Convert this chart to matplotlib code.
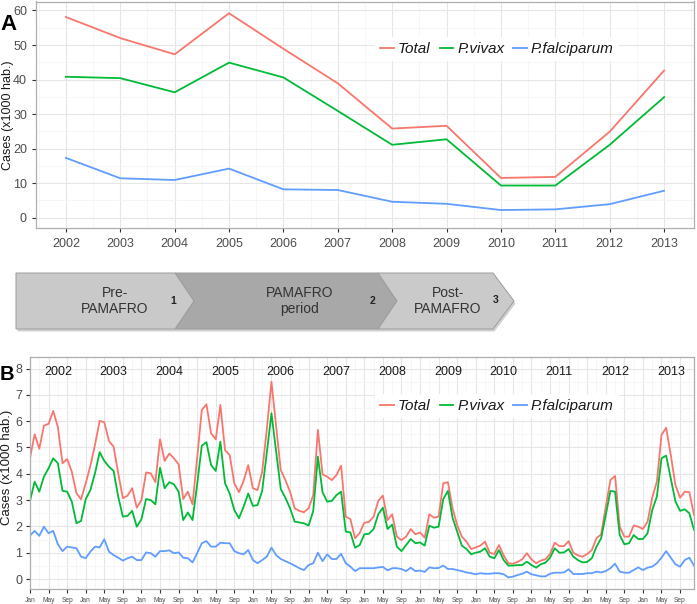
import matplotlib
matplotlib.use('Agg')
import matplotlib.pyplot as plt
from matplotlib.patches import Polygon
from matplotlib.lines import Line2D
import numpy as np

plt.rcParams['font.family'] = ['Liberation Sans', 'DejaVu Sans']

# ---------------- data ----------------
years = list(range(2002, 2014))
annual_total = [58.1, 52.0, 47.3, 59.2, 48.9, 38.9, 25.8, 26.6, 11.5, 11.8, 24.9, 42.6]
annual_vivax = [40.8, 40.4, 36.3, 44.9, 40.6, 30.9, 21.1, 22.7, 9.3, 9.3, 21.1, 34.9]
annual_falc = [17.3, 11.4, 10.9, 14.2, 8.2, 8.0, 4.6, 4.0, 2.2, 2.4, 3.9, 7.8]

monthly_total = [
    4.6, 5.5, 4.95, 5.83, 5.9, 6.39, 5.78, 4.4, 4.56, 4.08, 3.26, 3.03,
    3.64, 4.3, 5.1, 6.01, 5.96, 5.25, 5.03, 4.02, 3.07, 3.17, 3.45, 2.71,
    3.0, 4.05, 4.02, 3.68, 5.31, 4.49, 4.77, 4.59, 4.36, 3.04, 3.32, 2.84,
    4.6, 6.43, 6.64, 5.54, 5.31, 6.62, 4.9, 4.71, 3.64, 3.30, 3.73, 4.33,
    3.45, 3.38, 4.08, 5.7, 7.5, 5.8, 4.14, 3.76, 3.32, 2.69, 2.59, 2.54,
    2.69, 3.19, 5.67, 3.98, 3.89, 3.76, 3.95, 4.31, 2.37, 2.28, 1.55, 1.75,
    2.14, 2.17, 2.37, 2.97, 3.17, 2.24, 2.46, 1.61, 1.48, 1.61, 1.90, 1.70,
    1.77, 1.57, 2.46, 2.33, 2.37, 3.64, 3.68, 2.69, 2.05, 1.61, 1.42, 1.14,
    1.2, 1.27, 1.42, 1.0, 0.95, 1.29, 0.9, 0.6, 0.58, 0.65, 0.75, 0.98,
    0.75, 0.6, 0.7, 0.75, 0.95, 1.38, 1.25, 1.25, 1.44, 1.0, 0.9, 0.85,
    0.95, 1.1, 1.55, 1.7, 2.75, 3.76, 3.92, 1.99, 1.61, 1.61, 2.03, 1.99,
    1.9, 2.18, 3.09, 3.7, 5.48, 5.75, 4.71, 3.57, 3.09, 3.32, 3.3, 2.43,
]
monthly_vivax = [
    2.97, 3.70, 3.32, 3.89, 4.21, 4.59, 4.40, 3.35, 3.32, 2.94, 2.12, 2.21,
    3.04, 3.38, 4.02, 4.82, 4.49, 4.27, 4.11, 3.13, 2.37, 2.40, 2.59, 1.99,
    2.27, 3.04, 3.0, 2.84, 4.23, 3.45, 3.68, 3.6, 3.32, 2.24, 2.53, 2.24,
    3.6, 5.07, 5.2, 4.33, 4.11, 5.22, 3.64, 3.25, 2.62, 2.31, 2.75, 3.25,
    2.78, 2.81, 3.35, 4.8, 6.3, 4.85, 3.42, 3.09, 2.69, 2.18, 2.15, 2.12,
    2.03, 2.59, 4.65, 3.3, 2.94, 2.97, 3.19, 3.32, 1.8, 1.77, 1.19, 1.29,
    1.7, 1.72, 1.90, 2.46, 2.71, 1.90, 2.07, 1.23, 1.06, 1.29, 1.52, 1.36,
    1.39, 1.27, 2.03, 1.95, 1.99, 3.04, 3.35, 2.33, 1.80, 1.27, 1.14, 0.94,
    1.0, 1.04, 1.17, 0.85, 0.79, 1.1, 0.72, 0.51, 0.51, 0.53, 0.53, 0.66,
    0.53, 0.43, 0.56, 0.62, 0.81, 1.17, 1.0, 1.01, 1.14, 0.85, 0.72, 0.63,
    0.65, 0.79, 1.23, 1.55, 2.43, 3.35, 3.32, 1.67, 1.32, 1.36, 1.67, 1.52,
    1.52, 1.74, 2.62, 3.13, 4.59, 4.69, 3.83, 2.95, 2.59, 2.65, 2.5, 1.87,
]
monthly_falc = [
    1.65, 1.83, 1.64, 1.99, 1.74, 1.83, 1.32, 1.06, 1.23, 1.2, 1.17, 0.85,
    0.79, 1.04, 1.23, 1.2, 1.51, 1.04, 0.91, 0.81, 0.70, 0.79, 0.85, 0.72,
    0.72, 1.01, 0.98, 0.85, 1.06, 1.06, 1.09, 0.98, 1.01, 0.81, 0.79, 0.63,
    0.98, 1.36, 1.44, 1.23, 1.23, 1.38, 1.36, 1.36, 1.06, 0.98, 0.94, 1.1,
    0.72, 0.6, 0.72, 0.85, 1.19, 0.91, 0.76, 0.68, 0.6, 0.51, 0.41, 0.34,
    0.53, 0.6, 1.0, 0.68, 0.94, 0.76, 0.76, 0.96, 0.6, 0.47, 0.3, 0.41,
    0.41, 0.41, 0.41, 0.44, 0.46, 0.33, 0.41, 0.41, 0.38, 0.30, 0.43, 0.30,
    0.32, 0.27, 0.44, 0.41, 0.42, 0.51, 0.38, 0.38, 0.34, 0.3, 0.25, 0.22,
    0.18, 0.22, 0.2, 0.2, 0.22, 0.22, 0.18, 0.06, 0.09, 0.15, 0.2, 0.28,
    0.18, 0.14, 0.1, 0.1, 0.2, 0.24, 0.24, 0.25, 0.37, 0.19, 0.19, 0.19,
    0.22, 0.22, 0.28, 0.25, 0.30, 0.41, 0.58, 0.28, 0.24, 0.24, 0.34, 0.44,
    0.34, 0.43, 0.47, 0.6, 0.81, 1.06, 0.81, 0.56, 0.47, 0.72, 0.81, 0.51,
]
month_labels = ['Jan', 'May', 'Sep']
series_names = ['Total', 'P.vivax', 'P.falciparum']
phase_labels = ['Pre-\nPAMAFRO', 'PAMAFRO\nperiod', 'Post-\nPAMAFRO']
phase_numbers = ['1', '2', '3']
y_label = 'Cases (x1000 hab.)'

colors = ['#F8766D', '#00BA38', '#619CFF']

# ---------------- layout ----------------
W, H = 697, 604
fig = plt.figure(figsize=(W / 100, H / 100), dpi=100)


def rect(l, t, r, b):
    return [l / W, 1 - b / H, (r - l) / W, (b - t) / H]


# overlay for the chevrons
axO = fig.add_axes([0, 0, 1, 1], zorder=0)
axO.set_xlim(0, W)
axO.set_ylim(H, 0)
axO.axis('off')
axO.patch.set_alpha(0)

shapes = [
    ([(16, 273), (175, 273), (194, 301), (175, 329), (16, 329)], '#C9C9C9'),
    ([(175, 273), (378, 273), (397, 301), (378, 329), (175, 329), (194, 301)], '#A8A8A8'),
    ([(378, 273), (493, 273), (514, 301), (493, 329), (378, 329), (397, 301)], '#CACACA'),
]
# shadows
for pts, c in shapes:
    sh = [(x + 1.5, y + 2.5) for x, y in pts]
    axO.add_patch(Polygon(sh, closed=True, facecolor='#7A7A7A', edgecolor='none', alpha=0.35))
for pts, c in [shapes[1], shapes[0], shapes[2]]:
    axO.add_patch(Polygon(pts, closed=True, facecolor=c, edgecolor='#9C9C9C', linewidth=0.7))

text_pos = [(115, 301), (300, 301), (448, 301)]
num_pos = [(173, 301), (373, 301), (496, 300)]
for (tx, ty), lab in zip(text_pos, phase_labels):
    axO.text(tx, ty, lab, ha='center', va='center', fontsize=10, color='#333333', linespacing=1.2)
for (nx, ny), n in zip(num_pos, phase_numbers):
    axO.text(nx, ny, n, ha='center', va='center', fontsize=7.5, fontweight='bold', color='#222222')


def style(ax):
    ax.set_facecolor('white')
    for s in ax.spines.values():
        s.set_color('#AFAFAF')
        s.set_linewidth(0.9)
    ax.grid(which='major', color='#E6E6E6', linewidth=0.8)
    ax.grid(which='minor', color='#F3F3F3', linewidth=0.5)
    ax.set_axisbelow(True)
    ax.tick_params(which='major', color='#333333', length=3, width=0.8, labelcolor='#4D4D4D')
    ax.tick_params(which='minor', length=0)


# ---------------- panel A ----------------
axA = fig.add_axes(rect(36, 1.5, 694, 228), zorder=2)
style(axA)
for vals, c in zip([annual_total, annual_vivax, annual_falc], colors):
    axA.plot(years, vals, color=c, lw=1.3)
axA.set_xlim(2001.45, 2013.55)
axA.set_ylim(-3.0, 62.6)
axA.set_xticks(years)
axA.set_xticks(np.arange(2001.5, 2013.6, 1.0), minor=True)
axA.set_yticks(range(0, 61, 10))
axA.set_yticks(range(5, 60, 10), minor=True)
axA.tick_params(axis='both', labelsize=9)
axA.tick_params(axis='x', pad=4)

# ---------------- panel B ----------------
months = np.arange(len(monthly_total))
axB = fig.add_axes(rect(30, 357, 694, 589), zorder=2)
style(axB)
for vals, c in zip([monthly_total, monthly_vivax, monthly_falc], colors):
    axB.plot(months, vals, color=c, lw=1.3)
axB.set_xlim(0, 143)
axB.set_ylim(-0.38, 8.44)
mt = np.arange(0, 144, 4)
axB.set_xticks(mt)
axB.set_xticklabels([month_labels[i % 3] for i in range(len(mt))])
axB.set_xticks(np.arange(2, 144, 4), minor=True)
axB.set_yticks(range(0, 9))
axB.set_yticks(np.arange(0.5, 8, 1.0), minor=True)
axB.tick_params(axis='y', labelsize=9, pad=2.5)
axB.tick_params(axis='x', labelsize=4.8, pad=2.5, length=3)
for i, y in enumerate(years):
    axB.text(6 + 12 * i, 7.87, str(y), ha='center', va='center', fontsize=9, color='#1A1A1A')

# legends
handles = [Line2D([0], [0], color=c, lw=1.3) for c in colors]
for ax, cy in [(axA, 49), (axB, 406)]:
    leg = ax.legend(handles, series_names, loc='center', bbox_to_anchor=(497 / W, 1 - cy / H),
                    bbox_transform=fig.transFigure, ncol=3, frameon=True, facecolor='white',
                    edgecolor='none', framealpha=1, fancybox=False,
                    prop=dict(family='Liberation Sans', style='italic', size=11),
                    handlelength=0.9, handletextpad=0.25, columnspacing=0.6, borderpad=0.35)
    for t in leg.get_texts():
        t.set_color('#1A1A1A')

# y labels and panel letters
fig.text(8 / W, 1 - 115 / H, y_label, rotation=90, ha='center', va='center', fontsize=9, color='#1A1A1A')
fig.text(7.5 / W, 1 - 467 / H, y_label, rotation=90, ha='center', va='center', fontsize=9.5, color='#1A1A1A')
fig.text(0 / W, 1 - 25 / H, 'A', ha='left', va='center', fontsize=16, fontweight='bold')
fig.text(0 / W, 1 - 374 / H, 'B', ha='left', va='center', fontsize=14.5, fontweight='bold')

fig.savefig('out.png', dpi=100)
